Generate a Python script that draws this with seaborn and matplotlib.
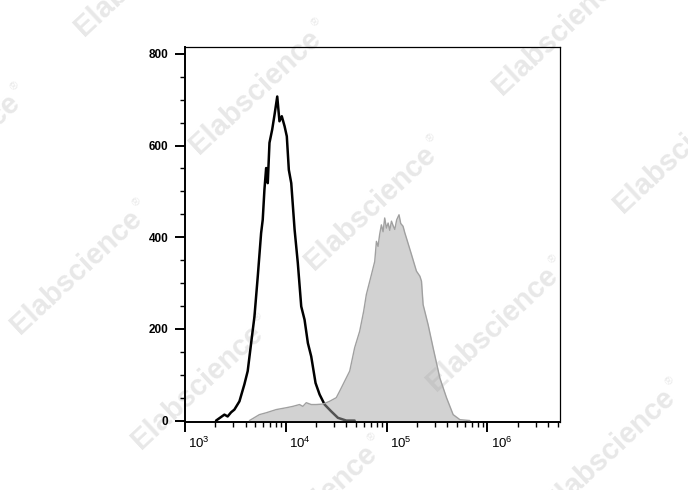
import numpy as np
import pandas as pd
import matplotlib
matplotlib.use('Agg')
import matplotlib.pyplot as plt
import matplotlib.transforms as mtransforms
from matplotlib.ticker import FixedLocator, MultipleLocator, LogLocator, NullFormatter
import seaborn as sns

# control (unstained) histogram - log10 fluorescence and event count
ctrl_log = [3.308, 3.391, 3.423, 3.457, 3.490, 3.540, 3.589, 3.622, 3.656, 3.689,
            3.722, 3.755, 3.771, 3.788, 3.805, 3.821, 3.838, 3.865, 3.888, 3.915,
            3.937, 3.960, 3.988, 4.010, 4.030, 4.054, 4.087, 4.119, 4.153, 4.186,
            4.219, 4.252, 4.295, 4.335, 4.385, 4.451, 4.517, 4.600, 4.683]
ctrl_count = [0, 13, 9, 18, 24, 42, 79, 108, 169, 227,
              315, 409, 438, 504, 551, 518, 606, 635, 667, 707,
              653, 664, 642, 620, 547, 518, 417, 344, 249, 220,
              169, 140, 82, 57, 35, 20, 6, 0, 0]

# stained sample histogram
stain_log = [3.639, 3.738, 3.805, 3.905, 4.004, 4.070, 4.136, 4.169, 4.203, 4.252,
             4.302, 4.368, 4.434, 4.501, 4.534, 4.584, 4.634, 4.683, 4.733, 4.772,
             4.799, 4.849, 4.882, 4.899, 4.915, 4.931, 4.948, 4.965, 4.981, 4.998,
             5.015, 5.031, 5.048, 5.065, 5.081, 5.100, 5.123, 5.140, 5.163, 5.180,
             5.197, 5.247, 5.296, 5.330, 5.346, 5.362, 5.412, 5.461, 5.528, 5.594,
             5.660, 5.727, 5.826]
stain_count = [0, 13, 17, 24, 28, 31, 35, 31, 39, 35,
               35, 36, 42, 50, 64, 86, 108, 159, 195, 238,
               275, 318, 347, 391, 380, 406, 427, 412, 442, 420,
               431, 415, 435, 425, 417, 438, 449, 430, 424, 410,
               398, 362, 326, 315, 304, 253, 209, 159, 93, 50,
               13, 2, 0]

x_ticks = [1e3, 1e4, 1e5, 1e6]
x_ticklabels = [r'$\mathregular{10^{3}}$', r'$\mathregular{10^{4}}$',
                r'$\mathregular{10^{5}}$', r'$\mathregular{10^{6}}$']
y_ticks = [0, 200, 400, 600, 800]

ctrl = pd.DataFrame({'fl': np.power(10.0, ctrl_log), 'count': ctrl_count})
stain = pd.DataFrame({'fl': np.power(10.0, stain_log), 'count': stain_count})

sns.set_theme(style='white')
plt.rcParams['font.family'] = ['Liberation Sans', 'DejaVu Sans']

fig = plt.figure(figsize=(6.88, 4.90), dpi=100)
ax = fig.add_axes([185 / 688, 1 - 421.5 / 490, 375 / 688, 374.5 / 490])
ax.patch.set_alpha(0)

# watermark
wm_centers = [(140, -26), (255, 92), (-46, 156), (370, 208), (558, 33), (679, 151),
              (76, 272), (492, 329), (197, 387), (609, 451), (311, 507)]
ang = np.deg2rad(43)
for cx, cy in wm_centers:
    fig.text(cx / 688, 1 - cy / 490, 'Elabscience', rotation=43, rotation_mode='anchor',
             ha='center', va='center', fontsize=21, fontweight='bold',
             color='#e8e8e8', zorder=-5)
    rx = cx + 92 * np.cos(ang) - 10 * np.sin(ang)
    ry = cy - 92 * np.sin(ang) - 10 * np.cos(ang)
    fig.text(rx / 688, 1 - ry / 490, '\u00ae', rotation=43, rotation_mode='anchor',
             ha='center', va='center', fontsize=8, color='#e8e8e8', zorder=-5)

sns.lineplot(data=ctrl, x='fl', y='count', color='black', linewidth=1.8,
             estimator=None, sort=False, ax=ax, zorder=2)
ax.fill_between(stain['fl'], 0, stain['count'], color='#a6a6a6', alpha=0.5,
                linewidth=0, zorder=3)
sns.lineplot(data=stain, x='fl', y='count', color='#a0a0a0', linewidth=1.0,
             estimator=None, sort=False, ax=ax, zorder=3)

ax.set_xscale('log')
ax.set_xlim(1e3, 10 ** 6.72)
ax.set_ylim(-2, 815)
ax.set_xlabel('')
ax.set_ylabel('')

ax.xaxis.set_major_locator(FixedLocator(x_ticks))
ax.set_xticklabels(x_ticklabels, fontsize=9.5, ha='left')
ax.xaxis.set_minor_locator(LogLocator(base=10, subs=np.arange(2, 10), numticks=20))
ax.xaxis.set_minor_formatter(NullFormatter())
ax.set_yticks(y_ticks)
ax.set_yticklabels([str(v) for v in y_ticks], fontsize=8.5, fontweight='bold')
ax.yaxis.set_minor_locator(MultipleLocator(50))

ax.tick_params(which='major', direction='out', length=7, width=1.4, color='black',
               labelcolor='black', bottom=True, left=True, top=False, right=False)
ax.tick_params(which='minor', direction='out', length=3.5, width=1.0, color='black',
               bottom=True, left=True, top=False, right=False)
ax.tick_params(axis='x', which='major', pad=3)
ax.tick_params(axis='y', which='major', pad=5)

offset = mtransforms.ScaledTranslation(2.5 / 72, 0, fig.dpi_scale_trans)
for lab in ax.get_xticklabels():
    lab.set_transform(lab.get_transform() + offset)

for side in ['left', 'bottom']:
    ax.spines[side].set_linewidth(1.4)
for side in ['top', 'right']:
    ax.spines[side].set_linewidth(0.9)
for s in ax.spines.values():
    s.set_color('black')
    s.set_visible(True)

fig.savefig('out.png', dpi=100)
